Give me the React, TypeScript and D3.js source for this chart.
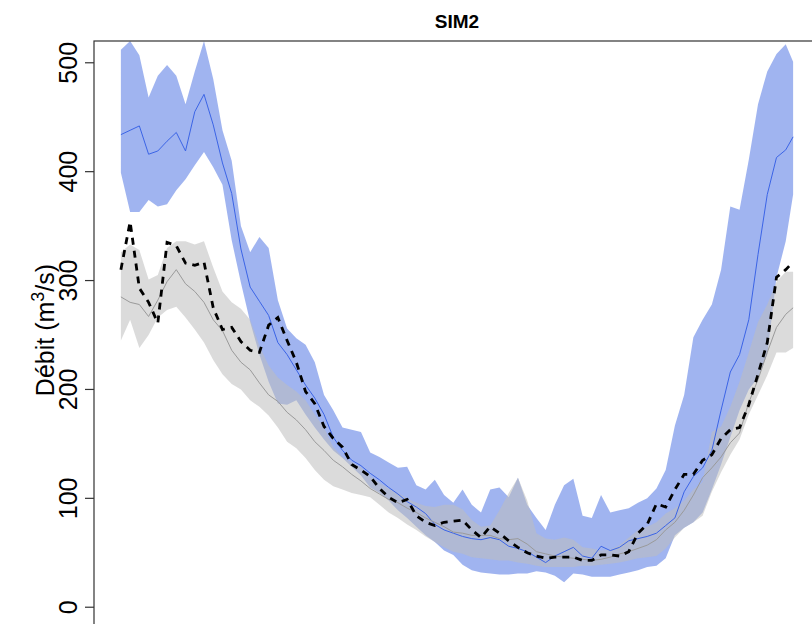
import React from "react";
import * as d3 from "d3";

// day of year (sampled every 5 days)
const days = [
  1, 6, 11, 16, 21, 26, 31, 36, 41, 46,
  51, 56, 61, 66, 71, 76, 81, 86, 91, 96,
  101, 106, 111, 116, 121, 126, 131, 136, 141, 146,
  151, 156, 161, 166, 171, 176, 181, 186, 191, 196,
  201, 206, 211, 216, 221, 226, 231, 236, 241, 246,
  251, 256, 261, 266, 271, 276, 281, 286, 291, 296,
  301, 306, 311, 316, 321, 326, 331, 336, 341, 346,
  351, 356, 361, 365,
];

// SIM2 envelope (blue)
const simUpper = [
  512, 520, 507, 468, 488, 498, 488, 462, 492, 520,
  485, 438, 410, 350, 326, 340, 330, 282, 256, 247,
  241, 225, 195, 181, 165, 163, 161, 142, 138, 133,
  128, 129, 112, 108, 117, 103, 96, 108, 94, 87,
  108, 110, 101, 119, 94, 82, 71, 94, 112, 118,
  84, 82, 103, 87, 89, 91, 96, 100, 109, 126,
  167, 195, 248, 264, 278, 310, 368, 365, 411, 462,
  492, 508, 517, 501,
];
const simLower = [
  399, 363, 363, 374, 368, 370, 383, 393, 406, 418,
  404, 388, 337, 298, 262, 232, 207, 187, 186, 190,
  177, 165, 154, 144, 137, 129, 121, 110, 105, 98,
  89, 82, 74, 66, 60, 52, 48, 39, 34, 32,
  31, 30, 30, 31, 31, 33, 32, 29, 23, 31,
  30, 28, 28, 28, 30, 32, 34, 37, 38, 45,
  66, 73, 78, 87, 108, 131, 156, 181, 200, 211,
  232, 303, 336, 379,
];
const simMedian = [
  434, 438, 442, 416, 419, 428, 436, 419, 455, 471,
  443, 408, 380, 329, 294, 281, 268, 243, 232, 218,
  204, 192, 177, 156, 144, 135, 130, 123, 117, 110,
  104, 97, 92, 86, 76, 71, 68, 65, 63, 62,
  64, 62, 56, 54, 51, 46, 41, 47, 51, 55,
  47, 45, 56, 52, 55, 61, 63, 65, 68, 75,
  82, 106, 120, 128, 144, 181, 216, 232, 264, 324,
  379, 413, 420, 432,
];

// reference envelope (grey)
const refUpper = [
  326, 333, 328, 301, 305, 330, 336, 336, 333, 336,
  312, 290, 280, 274, 264, 240, 222, 211, 204, 198,
  190, 177, 165, 147, 138, 133, 128, 120, 114, 109,
  105, 100, 96, 93, 92, 94, 94, 90, 80, 74,
  75, 89, 105, 119, 98, 68, 63, 62, 64, 62,
  55, 54, 52, 53, 57, 64, 71, 74, 78, 86,
  91, 98, 108, 115, 161, 166, 184, 207, 234, 262,
  278, 299, 308, 308,
];
const refLower = [
  245, 264, 238, 250, 266, 273, 276, 266, 255, 243,
  227, 214, 205, 200, 190, 184, 176, 165, 152, 146,
  137, 126, 117, 111, 108, 105, 103, 101, 94, 87,
  82, 76, 71, 65, 60, 55, 51, 49, 46, 45,
  44, 43, 43, 41, 40, 38, 37, 37, 37, 37,
  38, 38, 39, 40, 41, 43, 45, 46, 47, 54,
  64, 73, 78, 84, 106, 124, 140, 154, 177, 195,
  213, 234, 234, 238,
];
const refMedian = [
  285, 280, 278, 267, 282, 299, 310, 297, 290, 280,
  264, 254, 236, 225, 218, 206, 195, 189, 179, 172,
  163, 152, 144, 135, 129, 122, 116, 109, 104, 99,
  96, 91, 87, 82, 78, 74, 69, 68, 66, 66,
  66, 63, 62, 63, 58, 51, 49, 47, 46, 45,
  44, 43, 44, 46, 49, 51, 54, 57, 62, 71,
  78, 89, 103, 119, 128, 138, 151, 160, 188, 209,
  234, 257, 269, 275,
];

// observed discharge (dashed black)
const observed = [
  310, 354, 293, 280, 261, 335, 332, 316, 314, 317,
  275, 255, 257, 244, 236, 234, 259, 266, 245, 225,
  198, 187, 166, 155, 147, 131, 126, 120, 109, 101,
  96, 99, 84, 78, 75, 78, 79, 80, 71, 64,
  74, 68, 61, 55, 50, 47, 45, 46, 46, 46,
  43, 43, 48, 48, 47, 51, 68, 76, 95, 92,
  108, 122, 122, 135, 140, 155, 163, 165, 186, 214,
  243, 303, 310, 317,
];

const yTicks = [0, 100, 200, 300, 400, 500];

const W = 812;
const H = 624;
const plot = { left: 94, top: 41, right: 820, bottom: 629 };
const font = "'Liberation Sans', Arial, Helvetica, sans-serif";

export default function App() {
  // R-style 4% axis extension
  const x = d3
    .scaleLinear()
    .domain([1 - 0.04 * 364, 365 + 0.04 * 364])
    .range([plot.left, plot.right]);
  const y = d3.scaleLinear().domain([-20, 520]).range([plot.bottom, plot.top]);

  const band = (lo: number[], hi: number[]) =>
    d3
      .area<number>()
      .x((d) => x(d))
      .y0((_, i) => y(lo[i]))
      .y1((_, i) => y(hi[i]))(days) || "";

  const line = (vals: number[]) =>
    d3
      .line<number>()
      .x((d) => x(d))
      .y((_, i) => y(vals[i]))(days) || "";

  return (
    <svg
      width={W}
      height={H}
      style={{ position: "absolute", left: 0, top: 0, background: "#fff" }}
    >
      <defs>
        <clipPath id="plotClip">
          <rect
            x={plot.left}
            y={plot.top}
            width={plot.right - plot.left}
            height={plot.bottom - plot.top}
          />
        </clipPath>
      </defs>

      <text
        x={(plot.left + plot.right) / 2}
        y={28}
        textAnchor="middle"
        fontFamily={font}
        fontWeight="bold"
        fontSize={19}
      >
        SIM2
      </text>

      <g clipPath="url(#plotClip)">
        <path d={band(simLower, simUpper)} fill="rgb(65,105,225)" fillOpacity={0.5} />
        <path d={band(refLower, refUpper)} fill="rgb(190,190,190)" fillOpacity={0.55} />
        <path d={line(simMedian)} fill="none" stroke="#3b64e6" strokeWidth={1} />
        <path d={line(refMedian)} fill="none" stroke="#9a9a9a" strokeWidth={1} />
        <path
          d={line(observed)}
          fill="none"
          stroke="#000"
          strokeWidth={2.8}
          strokeDasharray="7 6"
        />
      </g>

      <rect
        x={plot.left}
        y={plot.top}
        width={plot.right - plot.left}
        height={plot.bottom - plot.top}
        fill="none"
        stroke="#333"
        strokeWidth={1.2}
      />

      {yTicks.map((t) => (
        <g key={t}>
          <line x1={plot.left - 9} x2={plot.left} y1={y(t)} y2={y(t)} stroke="#333" strokeWidth={1.2} />
          <text
            transform={`translate(77,${y(t)}) rotate(-90)`}
            textAnchor="middle"
            fontFamily={font}
            fontSize={25}
          >
            {t}
          </text>
        </g>
      ))}

      <text
        transform="translate(54,330) rotate(-90)"
        textAnchor="middle"
        fontFamily={font}
        fontSize={25}
      >
        Débit (m
        <tspan fontSize={18} dy={-10}>3</tspan>
        <tspan dy={10}>/s)</tspan>
      </text>
    </svg>
  );
}
